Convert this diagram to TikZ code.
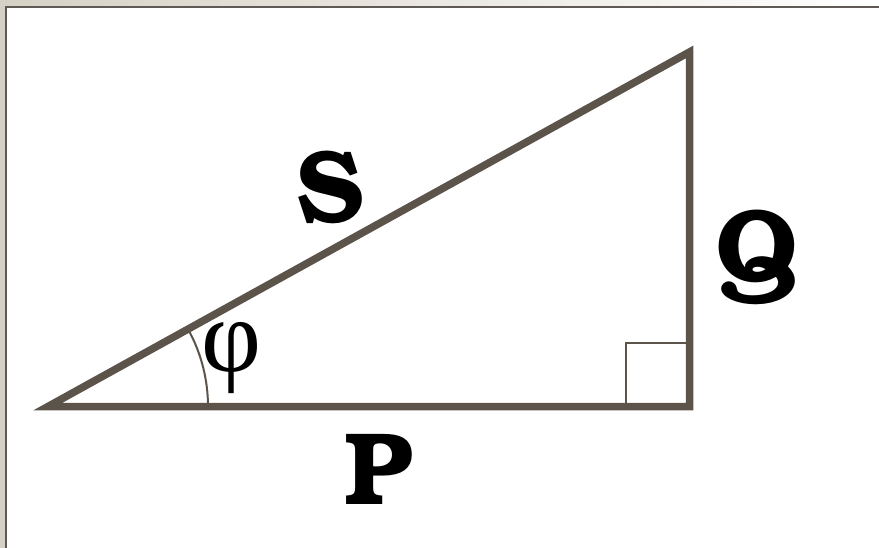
\documentclass[tikz,border=0pt]{standalone}
\usepackage{fontspec}
\newfontfamily\bonum{texgyrebonum-bold}[Extension=.otf]
\newfontfamily\grk{Liberation Serif}
\definecolor{beige}{RGB}{214,209,197}
\definecolor{framec}{RGB}{95,90,85}
\definecolor{tri}{RGB}{92,83,74}
\tikzset{
  side/.style={draw=tri,line width=7.5pt,line join=miter},
  thin/.style={draw=tri,line width=2pt},
  lbl/.style={font=\bonum\fontsize{103}{103}\selectfont,inner sep=0pt},
}
\begin{document}
\begin{tikzpicture}[x=1pt,y=-1pt]
\useasboundingbox (0,0) rectangle (879,548);
\fill[white] (0,0) rectangle (879,548);
\shade[left color=beige,right color=white] (0,0) rectangle (879,7);
\fill[beige] (0,0) rectangle (6,548);
\draw[framec,line width=2pt] (6,548) -- (6,7) -- (879,7);
% triangle
\coordinate (A) at (48,406.5);
\coordinate (B) at (689.5,406.5);
\coordinate (C) at (689.5,52);
\draw[side] (A) -- (B) -- (C) -- cycle;
% right angle mark
\coordinate (R1) at (626,403);
\coordinate (R2) at (626,343);
\coordinate (R3) at (686,343);
\draw[thin] (R1) -- (R2) -- (R3);
% angle arc
\draw[thin] ([shift={(0:160)}]A) arc[start angle=0,end angle=-28.92,radius=160];
% labels
\node[lbl] (S) at (330,187) {S};
\node[lbl] (Q) at (757,257) {Q};
\node[lbl] (P) at (378,469) {P};
\node[inner sep=0pt,font=\grk\fontsize{104}{104}\selectfont] (phi) at (232,358) {φ};
\end{tikzpicture}
\end{document}
